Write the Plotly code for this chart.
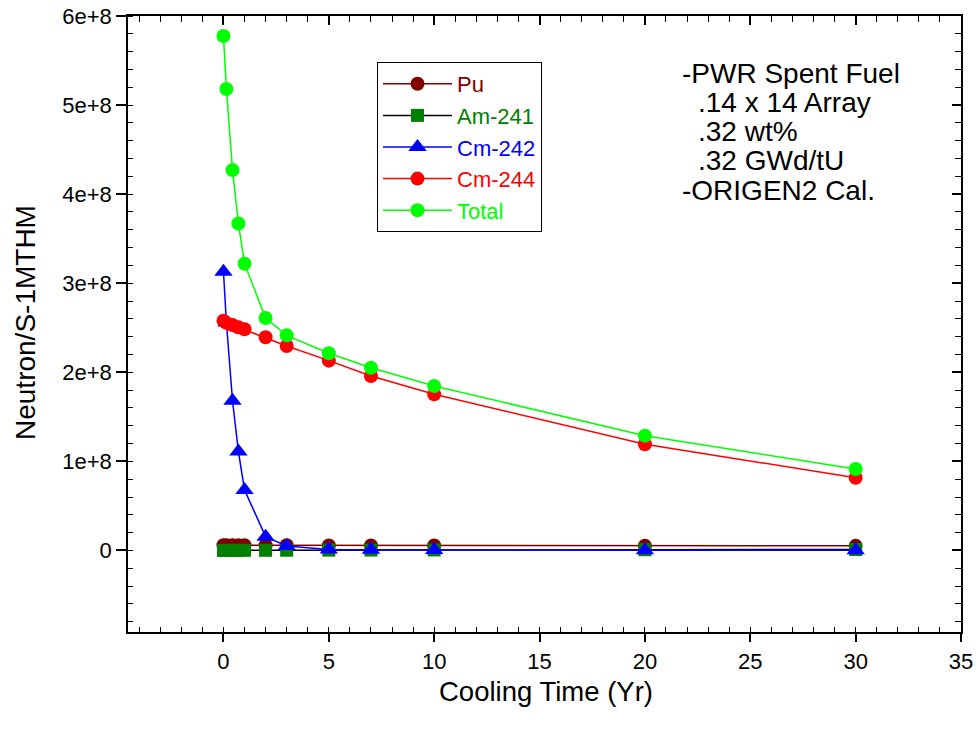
import plotly.graph_objects as go

# ---- data ----
cooling_time = [0, 0.14, 0.43, 0.71, 1, 2, 3, 5, 7, 10, 20, 30]
pu = [5.8e6, 5.8e6, 5.8e6, 5.8e6, 5.8e6, 5.8e6, 5.8e6, 5.7e6, 5.7e6, 5.6e6, 5.4e6, 5.2e6]
am241 = [1e5, 1e5, 1e5, 1e5, 2e5, 2e5, 3e5, 4e5, 5e5, 6e5, 9e5, 1.1e6]
cm242 = [3.13e8, 2.56e8, 1.68e8, 1.11e8, 0.68e8, 0.155e8, 0.05e8, 0.012e8, 0.008e8, 0.005e8, 0.003e8, 0.002e8]
cm244 = [2.58e8, 2.555e8, 2.53e8, 2.505e8, 2.483e8, 2.393e8, 2.296e8, 2.131e8, 1.959e8, 1.753e8, 1.192e8, 0.817e8]
total = [5.775e8, 5.18e8, 4.27e8, 3.67e8, 3.22e8, 2.61e8, 2.415e8, 2.214e8, 2.052e8, 1.847e8, 1.289e8, 0.915e8]

series_names = ["Pu", "Am-241", "Cm-242", "Cm-244", "Total"]
series_values = [pu, am241, cm242, cm244, total]
marker_colors = ["#800000", "#008000", "#0000FF", "#FF0000", "#00FF00"]
line_colors = ["#800000", "#000000", "#0000FF", "#FF0000", "#00FF00"]
symbols = ["circle", "square", "triangle-up", "circle", "circle"]
sizes = [14, 13, 16, 14, 14]

note_lines = ["-PWR Spent Fuel", ".14 x 14 Array", ".32 wt%", ".32 GWd/tU", "-ORIGEN2 Cal."]
note_indent = [False, True, True, True, False]

x_title = "Cooling Time (Yr)"
y_title = "Neutron/S-1MTHM"

FONT = "Arial, Liberation Sans, Helvetica, sans-serif"

fig = go.Figure()
for name, vals, mc, lc, sym, sz in zip(series_names, series_values, marker_colors,
                                       line_colors, symbols, sizes):
    fig.add_trace(go.Scatter(
        x=cooling_time, y=vals, mode="lines+markers",
        name=f"<span style='color:{mc}'>{name}</span>",
        line=dict(color=lc, width=1.5),
        marker=dict(symbol=sym, size=sz, color=mc, line=dict(width=0)),
    ))

# empty trace to carry the mirrored top/right axes
fig.add_trace(go.Scatter(x=[], y=[], xaxis="x2", yaxis="y2", showlegend=False,
                         hoverinfo="skip"))

xr = [-4.53, 35]
yr = [-0.915e8, 6e8]

common = dict(showgrid=False, zeroline=False, showline=True, linewidth=1.5,
              linecolor="black", tickcolor="black", tickwidth=1.5, automargin=False)

annotations = []
for i, (txt, ind) in enumerate(zip(note_lines, note_indent)):
    px = 696 if ind else 680
    py = 73 + i * 29.3
    annotations.append(dict(
        text=txt, xref="paper", yref="paper",
        x=(px - 128) / 833, y=(632 - py) / 616,
        xanchor="left", yanchor="middle", showarrow=False,
        font=dict(family=FONT, size=28, color="black")))

annotations.append(dict(text=x_title, xref="paper", yref="paper",
                        x=(546 - 128) / 833, y=(632 - 691) / 616,
                        xanchor="center", yanchor="middle", showarrow=False,
                        font=dict(family=FONT, size=27.5, color="black")))
annotations.append(dict(text=y_title, xref="paper", yref="paper",
                        x=(25 - 128) / 833, y=(632 - 323) / 616, textangle=-90,
                        xanchor="center", yanchor="middle", showarrow=False,
                        font=dict(family=FONT, size=28, color="black")))

fig.update_layout(
    template="none",
    width=978, height=729,
    margin=dict(l=128, r=17, t=16, b=97, pad=0),
    paper_bgcolor="white", plot_bgcolor="white",
    font=dict(family=FONT, color="black"),
    showlegend=True,
    legend=dict(x=(377 - 128) / 833, y=(632 - 62) / 616, xanchor="left", yanchor="top",
                bordercolor="black", borderwidth=1, bgcolor="white",
                itemwidth=69, font=dict(family=FONT, size=22)),
    xaxis=dict(range=xr, tickmode="linear", tick0=0, dtick=5, ticks="outside",
               ticklen=8, ticklabelstandoff=1,
               tickfont=dict(family=FONT, size=22, color="black"),
               minor=dict(ticks="inside", ticklen=5, tickwidth=1, tickcolor="black",
                          tick0=0, dtick=1, showgrid=False),
               **common),
    yaxis=dict(range=yr, tickmode="linear", tick0=0, dtick=1e8, ticks="outside",
               ticklen=10, exponentformat="e",
               tickfont=dict(family=FONT, size=22, color="black"),
               minor=dict(ticks="inside", ticklen=5, tickwidth=1, tickcolor="black",
                          tick0=0, dtick=2e7, showgrid=False),
               **common),
    xaxis2=dict(range=xr, overlaying="x", side="top", anchor="y2", tickmode="linear",
                tick0=0, dtick=5, ticks="inside", ticklen=9, showticklabels=False,
                minor=dict(ticks="inside", ticklen=6, tickwidth=1, tickcolor="black",
                           tick0=0, dtick=1, showgrid=False),
                **common),
    yaxis2=dict(range=yr, overlaying="y", side="right", anchor="x2", tickmode="linear",
                tick0=0, dtick=1e8, ticks="inside", ticklen=9, showticklabels=False,
                minor=dict(ticks="inside", ticklen=6, tickwidth=1, tickcolor="black",
                           tick0=0, dtick=2e7, showgrid=False),
                **common),
    annotations=annotations,
)

fig.write_html("out.html")
